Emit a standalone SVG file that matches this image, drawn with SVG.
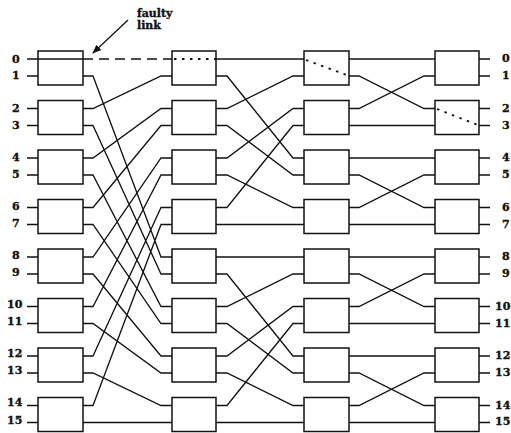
<svg xmlns="http://www.w3.org/2000/svg" width="511" height="433" viewBox="0 0 511 433">
<style>
.box{fill:none;stroke:#111;stroke-width:1.5}
.w{fill:none;stroke:#111;stroke-width:1.3}
.dash{fill:none;stroke:#111;stroke-width:1.6;stroke-dasharray:10 6}
.dot{fill:none;stroke:#111;stroke-width:1.8;stroke-dasharray:2.5 5.5}
.lbl{font-family:"DejaVu Serif","Liberation Serif",serif;font-weight:bold;font-size:11px;fill:#111;stroke:#111;stroke-width:0.35}
</style>
<defs>
<marker id="ah" viewBox="0 0 10 10" refX="9" refY="5" markerWidth="9" markerHeight="9" markerUnits="userSpaceOnUse" orient="auto">
<path d="M0,1 L10,5 L0,9 Z" fill="#111"/>
</marker>
</defs>
<rect width="511" height="433" fill="#fff"/>
<g id="connectors">
<path class="w" d="M27 59H83M27 76H38M27 108.5H38M27 125.5H38M27 158H38M27 175H38M27 207.5H38M27 224.5H38M27 257H38M27 274H38M27 306.5H38M27 323.5H38M27 356H38M27 373H38M27 405.5H38M27 422.5H38"/>
<path class="w" d="M479 59H490M479 76H490M479 108.5H490M479 125.5H490M479 158H490M479 175H490M479 207.5H490M479 224.5H490M479 257H490M479 274H490M479 306.5H490M479 323.5H490M479 356H490M479 373H490M479 405.5H490M479 422.5H490"/>
<path class="dash" d="M83 59H172"/>
<path class="w" d="M83 76H93L161 257H172
M83 108.5H93L161 76H172
M83 125.5H93L161 274H172
M83 158H93L161 108.5H172
M83 175H93L161 306.5H172
M83 207.5H93L161 125.5H172
M83 224.5H93L161 323.5H172
M83 257H93L161 158H172
M83 274H93L161 356H172
M83 306.5H93L161 175H172
M83 323.5H93L161 373H172
M83 356H93L161 207.5H172
M83 373H93L161 405.5H172
M83 405.5H93L161 224.5H172
M83 422.5H172"/>
<path class="w" d="M216 59H304
M216 76H227L293 158H304
M216 108.5H227L293 76H304
M216 125.5H227L293 175H304
M216 158H227L293 108.5H304
M216 175H227L293 207.5H304
M216 207.5H227L293 125.5H304
M216 224.5H304
M216 257H304
M216 274H227L293 356H304
M216 306.5H227L293 274H304
M216 323.5H227L293 373H304
M216 356H227L293 306.5H304
M216 373H227L293 405.5H304
M216 405.5H227L293 323.5H304
M216 422.5H304"/>
<path class="w" d="M349 59H435
M349 76H359L424 108.5H435
M349 108.5H359L424 76H435
M349 125.5H435
M349 158H435
M349 175H359L424 207.5H435
M349 207.5H359L424 175H435
M349 224.5H435
M349 257H435
M349 274H359L424 306.5H435
M349 306.5H359L424 274H435
M349 323.5H435
M349 356H435
M349 373H359L424 405.5H435
M349 405.5H359L424 373H435
M349 422.5H435"/>
<path class="dot" d="M174 59H216"/>
<path class="dot" d="M306 60L348 75.5"/>
<path class="dot" d="M437 109L478 125"/>
</g>
<g id="stage0">
<rect id="s0b0" class="box" x="38" y="51" width="45" height="34"/>
<rect id="s0b1" class="box" x="38" y="100.5" width="45" height="34"/>
<rect id="s0b2" class="box" x="38" y="150" width="45" height="34"/>
<rect id="s0b3" class="box" x="38" y="199.5" width="45" height="34"/>
<rect id="s0b4" class="box" x="38" y="249" width="45" height="34"/>
<rect id="s0b5" class="box" x="38" y="298.5" width="45" height="34"/>
<rect id="s0b6" class="box" x="38" y="348" width="45" height="34"/>
<rect id="s0b7" class="box" x="38" y="397.5" width="45" height="34"/>
</g>
<g id="stage1">
<rect id="s1b0" class="box" x="172" y="51" width="44" height="34"/>
<rect id="s1b1" class="box" x="172" y="100.5" width="44" height="34"/>
<rect id="s1b2" class="box" x="172" y="150" width="44" height="34"/>
<rect id="s1b3" class="box" x="172" y="199.5" width="44" height="34"/>
<rect id="s1b4" class="box" x="172" y="249" width="44" height="34"/>
<rect id="s1b5" class="box" x="172" y="298.5" width="44" height="34"/>
<rect id="s1b6" class="box" x="172" y="348" width="44" height="34"/>
<rect id="s1b7" class="box" x="172" y="397.5" width="44" height="34"/>
</g>
<g id="stage2">
<rect id="s2b0" class="box" x="304" y="51" width="45" height="34"/>
<rect id="s2b1" class="box" x="304" y="100.5" width="45" height="34"/>
<rect id="s2b2" class="box" x="304" y="150" width="45" height="34"/>
<rect id="s2b3" class="box" x="304" y="199.5" width="45" height="34"/>
<rect id="s2b4" class="box" x="304" y="249" width="45" height="34"/>
<rect id="s2b5" class="box" x="304" y="298.5" width="45" height="34"/>
<rect id="s2b6" class="box" x="304" y="348" width="45" height="34"/>
<rect id="s2b7" class="box" x="304" y="397.5" width="45" height="34"/>
</g>
<g id="stage3">
<rect id="s3b0" class="box" x="435" y="51" width="44" height="34"/>
<rect id="s3b1" class="box" x="435" y="100.5" width="44" height="34"/>
<rect id="s3b2" class="box" x="435" y="150" width="44" height="34"/>
<rect id="s3b3" class="box" x="435" y="199.5" width="44" height="34"/>
<rect id="s3b4" class="box" x="435" y="249" width="44" height="34"/>
<rect id="s3b5" class="box" x="435" y="298.5" width="44" height="34"/>
<rect id="s3b6" class="box" x="435" y="348" width="44" height="34"/>
<rect id="s3b7" class="box" x="435" y="397.5" width="44" height="34"/>
</g>
<g id="input-labels" class="lbl">
<text x="12" y="62.5">0</text>
<text x="12" y="78.5">1</text>
<text x="12" y="111.5">2</text>
<text x="12" y="128.5">3</text>
<text x="12" y="160.5">4</text>
<text x="12" y="177.5">5</text>
<text x="12" y="209.5">6</text>
<text x="12" y="226.5">7</text>
<text x="12" y="259">8</text>
<text x="12" y="276">9</text>
<text x="7" y="308">10</text>
<text x="7" y="325">11</text>
<text x="7" y="357">12</text>
<text x="7" y="374">13</text>
<text x="7" y="406">14</text>
<text x="7" y="423.5">15</text>
</g>
<g id="output-labels" class="lbl">
<text x="502" y="61.5">0</text>
<text x="502" y="78.5">1</text>
<text x="502" y="111.5">2</text>
<text x="502" y="128.5">3</text>
<text x="502" y="161">4</text>
<text x="502" y="178">5</text>
<text x="502" y="210.5">6</text>
<text x="502" y="227.5">7</text>
<text x="502" y="260">8</text>
<text x="502" y="277">9</text>
<text x="495" y="309.5">10</text>
<text x="495" y="326.5">11</text>
<text x="495" y="359">12</text>
<text x="495" y="376">13</text>
<text x="495" y="408.5">14</text>
<text x="495" y="425">15</text>
</g>
<g id="faulty-link-note">
<text class="lbl" x="137" y="17">faulty</text>
<text class="lbl" x="137" y="29">link</text>
<path class="w" d="M128 20L93 53" marker-end="url(#ah)"/>
</g>
</svg>
